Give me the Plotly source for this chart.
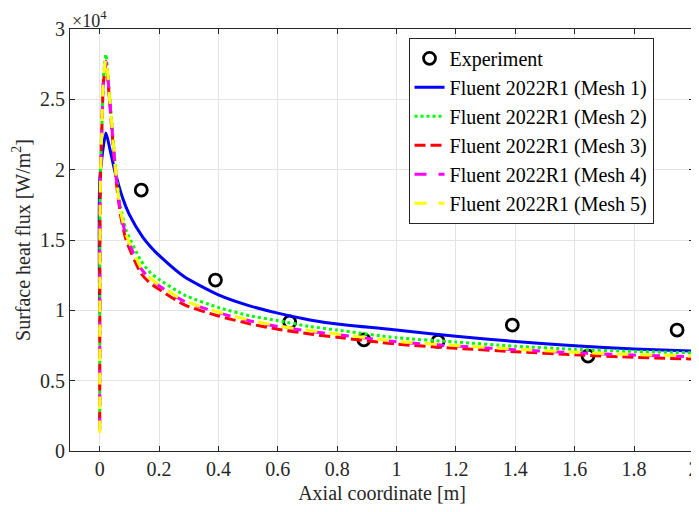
import plotly.graph_objects as go

# Experimental data
x_exp = [0.14, 0.39, 0.64, 0.89, 1.14, 1.39, 1.645, 1.945]
q_exp = [18550, 12150, 9170, 7900, 7800, 8950, 6750, 8600]

# Fluent 2022R1, Mesh 1
x_m1 = [0, 0.001, 0.021, 0.035, 0.05, 0.077, 0.1, 0.145, 0.172, 0.2, 0.284, 0.4, 0.508,
        0.6, 0.708, 0.8, 1.0, 1.2, 1.4, 1.6, 1.8, 2.0]
q_m1 = [9800, 19500, 22600, 21400, 20000, 18000, 16800, 15200, 14500, 13900, 12400, 11100, 10300,
        9800, 9320, 9030, 8600, 8150, 7780, 7480, 7260, 7100]

# Meshes 2-5 share the same axial stations
x_m = [0, 0.001, 0.003, 0.008, 0.012, 0.021, 0.029, 0.043, 0.054, 0.07, 0.089, 0.14, 0.172,
       0.2, 0.284, 0.4, 0.508, 0.6, 0.708, 0.8, 1.0, 1.2, 1.4, 1.6, 1.8, 2.0]
q_m2 = [1500, 16400, 20000, 23500, 26400, 28200, 26400, 22800, 20000, 17400, 15700, 13500, 12640,
        12200, 11100, 10200, 9600, 9270, 8850, 8600, 8050, 7750, 7450, 7230, 7080, 6980]
q_m3 = [2000, 16000, 19800, 23300, 26000, 27600, 26000, 22300, 19500, 16800, 15000, 12600, 11900,
        11500, 10400, 9600, 9030, 8660, 8320, 8080, 7600, 7300, 7060, 6840, 6660, 6540]
q_m4 = [1500, 16200, 19900, 23400, 26200, 27700, 26200, 22500, 19700, 17000, 15300, 12950, 12200,
        11750, 10650, 9830, 9240, 8850, 8510, 8280, 7760, 7460, 7200, 6980, 6820, 6710]
q_m5 = [1300, 16200, 19900, 23400, 26300, 27900, 26300, 22600, 19800, 17100, 15400, 13000, 12250,
        11800, 10700, 9880, 9290, 8900, 8560, 8320, 7800, 7500, 7240, 7020, 6860, 6750]

x_ticks = [0, 0.2, 0.4, 0.6, 0.8, 1, 1.2, 1.4, 1.6, 1.8, 2]
x_ticktext = ["0", "0.2", "0.4", "0.6", "0.8", "1", "1.2", "1.4", "1.6", "1.8", "2"]
y_ticks = [0, 5000, 10000, 15000, 20000, 25000, 30000]
y_ticktext = ["0", "0.5", "1", "1.5", "2", "2.5", "3"]

serif = "Liberation Serif"
ink = "#262626"

fig = go.Figure()

fig.add_trace(go.Scatter(
    x=x_exp, y=q_exp, mode="markers", name="Experiment",
    marker=dict(symbol="circle-open", size=12, color="black", line=dict(width=2.8, color="black")),
))

# name, x, y, colour, dash
series = [
    ("Fluent 2022R1 (Mesh 1)", x_m1, q_m1, "#0000FF", "solid"),
    ("Fluent 2022R1 (Mesh 2)", x_m, q_m2, "#00FF00", "3px,3px"),
    ("Fluent 2022R1 (Mesh 3)", x_m, q_m3, "#FF0000", "11px,5px"),
    ("Fluent 2022R1 (Mesh 4)", x_m, q_m4, "#FF00FF", "12px,12px"),
    ("Fluent 2022R1 (Mesh 5)", x_m, q_m5, "#FFFF00", "12px,12px"),
]
for name, xs, ys, col, dash in series:
    fig.add_trace(go.Scatter(
        x=xs, y=ys, mode="lines", name=name,
        line=dict(color=col, width=3, dash=dash, shape="spline", smoothing=0.6),
    ))

axis_common = dict(
    showline=True, linecolor=ink, linewidth=1, mirror="ticks",
    ticks="inside", ticklen=5, tickcolor=ink,
    showgrid=True, gridcolor="#e4e4e4", gridwidth=1, zeroline=False,
    tickfont=dict(family=serif, size=20, color=ink),
    automargin=False,
)

# range ends a hair past 2 so the last tick label is kept
fig.update_xaxes(
    range=[-0.1, 2.002], tickvals=x_ticks, ticktext=x_ticktext, ticklabeloverflow="allow",
    title=dict(text="Axial coordinate [m]", font=dict(family=serif, size=20, color=ink), standoff=6),
    **axis_common,
)
fig.update_yaxes(
    range=[0, 30000], tickvals=y_ticks, ticktext=y_ticktext,
    title=dict(text="Surface heat flux [W/m<sup>2</sup>]", font=dict(family=serif, size=20, color=ink), standoff=4),
    **axis_common,
)

# MATLAB-style exponent label above the y axis
fig.add_annotation(
    text="×10<sup>4</sup>", xref="paper", yref="paper", x=0, y=1,
    xanchor="left", yanchor="bottom", showarrow=False, yshift=-4,
    font=dict(family=serif, size=18, color=ink),
)

# the page body has an 8px margin, so the figure is shrunk by that much
fig.update_layout(
    width=691, height=504,
    margin=dict(l=62, r=5, t=21, b=61),
    plot_bgcolor="white", paper_bgcolor="white",
    font=dict(family=serif, color="black"),
    legend=dict(
        x=0.5425, y=0.979, xanchor="left", yanchor="top",
        bgcolor="white", bordercolor=ink, borderwidth=1,
        font=dict(family=serif, size=20, color="black"),
        tracegroupgap=0,
    ),
    showlegend=True,
)

fig.write_html("out.html")
